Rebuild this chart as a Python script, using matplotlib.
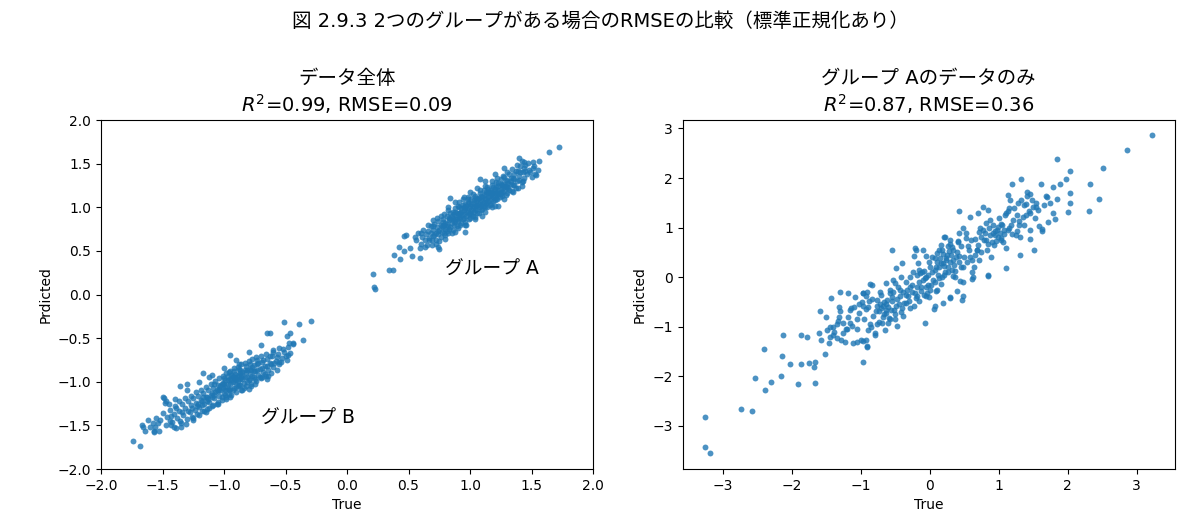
import matplotlib
matplotlib.use("Agg")
import matplotlib.pyplot as plt

plt.rcParams['font.family'] = ['DejaVu Sans', 'Noto Sans CJK JP']

# 左: データ全体 (グループ A)
a_true = [0.56, 0.58, 0.60, 0.61, 0.62, 0.63, 0.64, 0.65, 0.66, 0.67, 0.68, 0.68, 0.69, 0.70, 0.70,
          0.71, 0.72, 0.72, 0.73, 0.74, 0.74, 0.75, 0.76, 0.76, 0.77, 0.78, 0.78, 0.79, 0.80, 0.80,
          0.81, 0.82, 0.82, 0.83, 0.84, 0.84, 0.85, 0.86, 0.86, 0.87, 0.88, 0.88, 0.89, 0.90, 0.90,
          0.91, 0.92, 0.92, 0.93, 0.94, 0.94, 0.95, 0.96, 0.96, 0.97, 0.98, 0.98, 0.99, 1.00, 1.00,
          1.01, 1.02, 1.02, 1.03, 1.04, 1.04, 1.05, 1.06, 1.06, 1.07, 1.08, 1.08, 1.09, 1.10, 1.10,
          1.11, 1.12, 1.12, 1.13, 1.14, 1.14, 1.15, 1.16, 1.16, 1.17, 1.18, 1.18, 1.19, 1.20, 1.20,
          1.21, 1.22, 1.22, 1.23, 1.24, 1.25, 1.25, 1.26, 1.27, 1.28, 1.28, 1.29, 1.30, 1.30, 1.31,
          1.32, 1.33, 1.34, 1.35, 1.36, 1.37, 1.38, 1.39, 1.40, 1.41, 1.42, 1.43, 1.44, 1.45, 1.46,
          1.48, 1.50, 1.52, 1.55,
          0.85, 0.88, 0.91, 0.95, 0.97, 0.99, 1.01, 1.03, 1.05, 1.07, 1.09, 1.11, 1.13, 1.15, 1.17,
          1.19, 0.79, 0.81, 0.83, 0.87, 0.93, 1.21, 1.23, 1.26, 1.29,
          0.21, 0.22, 0.23, 0.34, 0.37, 0.38, 0.42, 0.46, 0.53, 0.59, 0.74, 0.84, 1.40, 1.44, 1.56,
          1.51, 1.54, 1.64, 1.72, 1.23, 1.08, 0.96, 0.55, 0.59, 0.51, 0.46, 0.48, 0.43, 0.75,
          0.60, 0.63, 0.66, 0.69, 0.71, 0.73, 0.75, 0.77, 0.79, 0.80, 0.82, 0.83, 0.85, 0.86, 0.88,
          0.89, 0.90, 0.91, 0.92, 0.93, 0.94, 0.95, 0.96, 0.97, 0.98, 0.99, 1.00, 1.01, 1.02, 1.03,
          1.04, 1.05, 1.06, 1.07, 1.08, 1.09, 1.10, 1.11, 1.12, 1.13, 1.14, 1.15, 1.16, 1.17, 1.18,
          1.19, 1.20, 1.21, 1.22, 1.23, 1.24, 1.25, 1.26, 1.27, 1.28, 1.29, 1.30, 1.31, 1.32, 1.33,
          1.34, 1.35, 1.36, 1.37, 1.38, 1.40, 1.41, 1.42, 1.43, 1.45, 1.47, 1.49, 1.51, 1.53,
          0.67, 0.70, 0.74, 0.78, 0.81, 0.84, 0.87, 0.89, 0.91, 0.93, 0.95, 0.97, 0.99, 1.01, 1.03,
          1.05, 1.07, 1.09, 1.11, 1.13, 1.15, 1.17, 1.19, 1.21, 1.23, 1.25, 1.27, 1.30, 1.33, 1.36,
          1.39, 1.44,
          0.70, 0.76, 0.82, 0.88, 0.95, 1.00, 1.06, 1.12, 1.20, 1.28, 0.72, 0.80, 0.88, 0.96, 1.04,
          1.12, 1.20, 1.28, 1.35, 1.42, 0.98, 1.10, 0.90, 1.18]
a_pred = [0.62, 0.70, 0.58, 0.66, 0.74, 0.62, 0.69, 0.57, 0.73, 0.65, 0.78, 0.70, 0.62, 0.74, 0.67,
          0.81, 0.71, 0.63, 0.77, 0.69, 0.84, 0.74, 0.66, 0.80, 0.72, 0.86, 0.77, 0.70, 0.82, 0.75,
          0.90, 0.79, 0.71, 0.85, 0.77, 0.93, 0.82, 0.74, 0.88, 0.80, 0.95, 0.86, 0.78, 0.91, 0.84,
          1.00, 0.88, 0.80, 0.95, 0.86, 1.03, 0.92, 0.83, 0.99, 0.90, 1.06, 0.96, 0.87, 1.02, 0.94,
          1.10, 0.99, 0.90, 1.05, 0.97, 1.13, 1.02, 0.93, 1.09, 1.00, 1.16, 1.06, 0.97, 1.12, 1.04,
          1.20, 1.09, 1.00, 1.15, 1.06, 1.23, 1.12, 1.03, 1.18, 1.10, 1.26, 1.16, 1.07, 1.21, 1.13,
          1.29, 1.18, 1.10, 1.24, 1.16, 1.32, 1.21, 1.13, 1.27, 1.19, 1.35, 1.24, 1.16, 1.30, 1.22,
          1.38, 1.27, 1.19, 1.33, 1.25, 1.42, 1.30, 1.22, 1.36, 1.47, 1.29, 1.40, 1.34, 1.49, 1.38,
          1.43, 1.35, 1.47, 1.43,
          0.90, 0.83, 0.93, 0.97, 1.01, 0.92, 1.04, 0.95, 1.07, 1.11, 1.02, 1.14, 1.05, 1.17, 1.20,
          1.12, 0.80, 0.73, 0.88, 0.92, 0.99, 1.23, 1.15, 1.25, 1.31,
          0.24, 0.09, 0.06, 0.28, 0.28, 0.45, 0.55, 0.67, 0.44, 0.42, 0.54, 1.11, 1.57, 1.52, 1.53,
          1.45, 1.37, 1.63, 1.69, 1.01, 1.32, 0.72, 0.66, 0.53, 0.53, 0.50, 0.68, 0.41, 0.52,
          0.71, 0.55, 0.80, 0.57, 0.68, 0.88, 0.61, 0.79, 0.92, 0.68, 0.97, 0.75, 0.71, 0.95, 0.99,
          0.87, 0.76, 1.06, 0.94, 0.82, 1.09, 0.88, 1.04, 0.80, 1.12, 0.99, 0.88, 0.97, 1.15, 1.01,
          0.89, 1.11, 1.03, 0.94, 1.20, 1.08, 0.98, 1.06, 1.24, 1.10, 1.00, 1.21, 1.13, 1.04, 1.30,
          1.18, 1.08, 1.16, 1.33, 1.20, 1.12, 1.27, 1.18, 1.36, 1.24, 1.14, 1.40, 1.28, 1.20, 1.34,
          1.44, 1.26, 1.38, 1.22, 1.48, 1.31, 1.40, 1.53, 1.30, 1.42, 1.51, 1.40, 1.52, 1.38,
          0.62, 0.79, 0.73, 0.83, 0.81, 0.86, 0.84, 0.94, 0.89, 0.91, 1.00, 0.95, 1.05, 0.92, 1.08,
          0.98, 1.04, 1.13, 1.02, 1.18, 1.07, 1.15, 1.23, 1.11, 1.28, 1.15, 1.22, 1.23, 1.30, 1.32,
          1.41, 1.45,
          0.85, 0.90, 1.00, 1.06, 1.12, 1.17, 1.22, 1.30, 1.38, 1.45, 0.58, 0.64, 0.72, 0.80, 0.86,
          0.95, 1.02, 1.10, 1.17, 1.24, 1.09, 0.90, 1.02, 1.00]

# 左: データ全体 (グループ B)
b_true = [-1.46, -1.44, -1.42, -1.41, -1.40, -1.38, -1.37, -1.35, -1.34, -1.33, -1.32, -1.30, -1.29,
          -1.28, -1.27, -1.26, -1.25, -1.24, -1.23, -1.22, -1.21, -1.20, -1.19, -1.18, -1.17, -1.16,
          -1.15, -1.14, -1.13, -1.12, -1.11, -1.10, -1.09, -1.08, -1.07, -1.06, -1.05, -1.04, -1.03,
          -1.02, -1.01, -1.00, -0.99, -0.98, -0.97, -0.96, -0.95, -0.94, -0.93, -0.92, -0.91, -0.90,
          -0.89, -0.88, -0.87, -0.86, -0.85, -0.84, -0.83, -0.82, -0.81, -0.80, -0.79, -0.78, -0.77,
          -0.76, -0.75, -0.74, -0.73, -0.72, -0.71, -0.70, -0.69, -0.68, -0.67, -0.66, -0.65, -0.64,
          -0.63, -0.62, -0.61, -0.60, -0.58, -0.57, -0.56, -0.55, -0.53, -0.52, -0.50, -0.48, -0.46,
          -0.44,
          -1.05, -1.02, -0.99, -0.97, -0.95, -0.93, -0.91, -0.89, -0.87, -0.85, -0.83, -0.81, -0.79,
          -0.77, -1.00, -0.96, -0.92, -0.88, -1.10, -1.14, -1.18, -1.08, -0.94, -0.90,
          -0.29, -0.39, -0.51, -0.36, -0.48, -0.55, -0.69, -0.80, -1.74, -1.68, -1.66, -1.64, -1.57,
          -1.56, -1.52, -1.43, -1.49, -1.48, -1.30, -1.17, -0.95, -0.65, -0.49, -0.44, -0.60,
          -1.50, -1.47, -1.36, -1.57, -1.67, -1.39, -1.44, -1.54, -0.63, -0.46,
          -1.50, -1.47, -1.45, -1.43, -1.41, -1.39, -1.37, -1.36, -1.34, -1.32, -1.31, -1.29, -1.27,
          -1.26, -1.25, -1.23, -1.22, -1.20, -1.19, -1.18, -1.16, -1.15, -1.14, -1.12, -1.11, -1.10,
          -1.09, -1.07, -1.06, -1.05, -1.04, -1.03, -1.02, -1.01, -1.00, -0.99, -0.98, -0.97, -0.96,
          -0.95, -0.94, -0.93, -0.92, -0.91, -0.90, -0.89, -0.88, -0.87, -0.86, -0.85, -0.84, -0.83,
          -0.82, -0.81, -0.80, -0.79, -0.78, -0.77, -0.76, -0.75, -0.74, -0.73, -0.72, -0.71, -0.70,
          -0.69, -0.68, -0.67, -0.66, -0.65, -0.64, -0.63, -0.62, -0.60, -0.59, -0.57, -0.55, -0.54,
          -0.51, -0.49, -0.47, -1.55, -1.53, -1.58, -1.60, -1.62, -1.13, -1.08, -1.01, -0.97, -0.93,
          -0.89, -0.86, -0.82, -0.79, -0.76, -0.73, -1.04, -0.99, -0.95, -0.91, -0.87, -1.21, -1.17,
          -1.40, -1.30, -1.20, -1.10, -1.00, -0.90, -0.80, -0.70, -1.35, -1.25, -1.15, -1.05, -0.95,
          -0.85, -0.75, -0.65, -1.12, -0.98, -0.88, -0.78]
b_pred = [-1.40, -1.32, -1.46, -1.37, -1.28, -1.42, -1.33, -1.47, -1.25, -1.38, -1.30, -1.43, -1.22,
          -1.35, -1.27, -1.40, -1.19, -1.32, -1.24, -1.37, -1.16, -1.29, -1.21, -1.34, -1.13, -1.26,
          -1.18, -1.31, -1.10, -1.23, -1.15, -1.28, -1.07, -1.19, -1.12, -1.25, -1.04, -1.16, -1.09,
          -1.21, -1.01, -1.13, -1.06, -1.18, -0.98, -1.10, -1.03, -1.15, -0.95, -1.07, -1.00, -1.12,
          -0.92, -1.04, -0.97, -1.09, -0.89, -1.01, -0.94, -1.05, -0.86, -0.98, -0.91, -1.02, -0.83,
          -0.95, -0.88, -0.99, -0.80, -0.92, -0.85, -0.96, -0.77, -0.89, -0.82, -0.93, -0.74, -0.86,
          -0.79, -0.90, -0.71, -0.83, -0.76, -0.87, -0.68, -0.80, -0.73, -0.62, -0.70, -0.60, -0.67,
          -0.57,
          -1.11, -1.03, -1.10, -0.93, -1.08, -1.00, -0.94, -1.05, -0.90, -0.97, -0.87, -1.00, -0.85,
          -0.93, -0.96, -0.89, -0.88, -0.85, -1.17, -1.22, -1.27, -1.03, -0.92, -0.98,
          -0.30, -0.34, -0.31, -0.52, -0.69, -0.77, -0.94, -1.08, -1.68, -1.74, -1.52, -1.57, -1.57,
          -1.52, -1.44, -1.50, -1.19, -1.24, -1.03, -0.90, -0.69, -0.44, -0.48, -0.56, -0.64,
          -1.18, -1.22, -1.05, -1.58, -1.50, -1.53, -1.45, -1.47, -0.44, -0.44,
          -1.36, -1.50, -1.26, -1.39, -1.52, -1.30, -1.22, -1.45, -1.35, -1.19, -1.48, -1.33, -1.16,
          -1.30, -1.44, -1.12, -1.28, -1.38, -1.09, -1.22, -1.33, -1.06, -1.18, -1.30, -1.03, -1.13,
          -1.27, -0.99, -1.10, -1.23, -0.96, -1.05, -1.17, -0.93, -1.03, -1.15, -0.90, -1.02, -1.14,
          -0.88, -0.98, -1.10, -0.84, -0.96, -1.06, -0.83, -0.93, -1.04, -0.80, -0.92, -1.07, -0.78,
          -0.89, -0.95, -0.76, -0.97, -0.86, -0.74, -0.88, -0.97, -0.72, -0.86, -0.79, -0.94, -0.70,
          -0.84, -0.75, -0.91, -0.68, -0.82, -0.93, -0.70, -0.80, -0.66, -0.78, -0.72, -0.61, -0.77,
          -0.66, -0.75, -0.55, -1.42, -1.56, -1.47, -1.52, -1.44, -1.20, -1.15, -1.07, -1.08, -0.93,
          -0.99, -0.95, -0.82, -0.80, -0.81, -0.75, -1.08, -0.98, -0.97, -0.91, -0.87, -1.25, -1.17,
          -1.20, -1.10, -1.00, -0.92, -0.84, -0.75, -0.66, -0.58, -1.52, -1.42, -1.35, -1.26, -1.18,
          -1.10, -1.02, -0.97, -0.95, -1.20, -0.80, -1.05]

# 右: グループ A のデータのみ
r_true = [-3.26, -3.26, -3.19, -2.73, -2.57, -2.53, -2.38, -2.40, -2.30, -2.16, -2.14, -2.12, -2.03,
          -1.91, -1.86, -1.86, -1.78, -1.75, -1.68, -1.66, -1.66, -1.52, -1.59, -1.50, -1.43, -0.96,
          -0.55, -0.23, -0.20,
          -1.60, -1.57, -1.49, -1.44, -1.40, -1.46, -1.35, -1.30, -1.31, -1.25, -1.23, -1.20, -1.19,
          -1.15, -1.11, -1.06, -1.14, -1.00, -0.98, -0.97, -0.93, -0.91, -0.89, -0.84, -0.82, -0.79,
          -0.73, -0.69, -0.67, -0.65, -0.62, -0.59, -0.57, -0.52, -0.50, -0.48, -0.43, -0.38, -0.33,
          -0.29, -0.23, -0.19, -0.15,
          -1.16, -1.31, -1.30, -1.08, -0.91, -0.86, -0.97, -0.76, -0.63, -0.56, -0.68, -0.86, -0.96,
          -0.91, -1.06, -1.45, -1.40, -1.35, -1.28, -1.22, -1.12, -1.10, -1.02, -0.92, -0.88, -0.80,
          -0.76, -0.70, -0.66, -0.64, -0.58, -0.54, -0.50, -0.45, -0.40, -0.35, -0.30, -0.26, -0.20,
          -0.12, -0.10, -0.04,
          1.85, 2.86, 2.51, 2.04, 1.98, 2.33, 2.46, 2.31, 2.01, 2.04, 2.03, 1.85, 1.89, 1.78, 1.61,
          1.68, 1.78, 1.81, 1.71, 1.62, 1.59, 1.51, 1.32, 1.19, 1.41, 1.41, 1.54, 1.50, 1.45, 1.35,
          1.26, 1.37, 1.13, 1.17, 1.28, 1.15, 1.11, 1.21, 1.30, 1.46, 1.46, 1.31, 1.26, 1.11, 1.31,
          1.11, 1.04, 1.05, 0.99, 0.92, 0.96, 0.84, 0.77, 0.70, 0.88, 0.77, 0.82, 0.72, 0.65, 0.58,
          0.43, 0.48, 0.53, 0.55, 0.43, 0.41, 0.68, 0.62, 0.72, 0.84, 0.63, 0.48, 0.43, 0.34, 0.26,
          0.29, 0.22, 0.14, 0.07, 0.19, 0.26, 0.36, 0.18, 0.07, 0.00, -0.05, -0.10, -0.17, -0.22,
          -0.07, -0.14, -0.24, -0.40, -0.49, -0.41, -0.53, -0.63, -0.72, -0.92, -0.58, -0.43, -0.29,
          -0.19, -0.35, -0.49, -0.63, -0.77, -0.97, -0.05, 0.10, 0.29, 0.48, 0.48, -0.07, 0.07, 0.19,
          0.06, 0.47, 0.29, 0.39, 0.44, 0.34, 0.16, 0.09, -0.01, -0.06, 0.14, 0.24, 0.19, 0.34, 0.29,
          0.21, 0.41, 0.59, 0.64, 0.69, 0.74, 0.84, 0.89, 0.94, 0.99, 1.04, 1.14, 1.19, 1.29, 1.44,
          1.39, 1.46, 1.54, 3.22, 0.85, 0.62, 1.70, 1.62,
          0.10, 0.15, 0.20, 0.25, 0.30, 0.32, 0.12, 0.05, -0.02, 0.22, 0.38, 0.02, -0.15, -0.08, 0.28,
          0.17, 1.02, 1.08, 0.95, 0.90, 1.06, 0.86, 1.15, 0.80,
          -1.25, -1.18, -1.05, -1.03, -0.95, -0.90, -0.85, -0.83, -0.78, -0.74, -0.72, -0.70, -0.66,
          -0.61, -0.60, -0.55, -0.53, -0.51, -0.47, -0.46, -0.42, -0.39, -0.37, -0.34, -0.31, -0.28,
          -0.25, -0.22, -0.18, -0.16, -0.13, -0.11, -0.09, -0.06, -0.03, -0.01, 0.01, 0.03, 0.04,
          0.08, 0.09, 0.11, 0.13, 0.16, 0.18, 0.21, 0.23, 0.27, 0.31, 0.33, 0.35, 0.37, 0.40, 0.42,
          0.45, 0.46, 0.50, 0.52, 0.54, 0.57, 0.60, 0.61, 0.66, 0.70, 0.73, 0.75, 0.79, 0.81, 0.83,
          0.87, 0.91, 0.93, 0.97, 1.00, 1.03, 1.07, 1.09, 1.13, 1.18, 1.22, 1.25, 1.33, 1.36, 1.40,
          1.48, 1.52, 1.57, 1.65, 1.75, -1.38, -1.33]
r_pred = [-2.83, -3.43, -3.54, -2.66, -2.69, -2.04, -2.28, -1.45, -2.11, -2.00, -1.59, -1.16, -1.75,
          -2.16, -1.75, -1.16, -1.21, -1.73, -1.82, -1.71, -2.14, -1.55, -0.69, -0.81, -0.42, -1.71,
          0.55, 0.42, 0.55,
          -1.13, -1.26, -1.06, -1.20, -1.01, -1.33, -1.23, -0.69, -0.81, -0.92, -1.30, -1.05, -0.31,
          -0.93, -1.33, -0.85, -0.63, -1.26, -0.50, -0.31, -1.26, -1.40, -1.06, -0.16, -0.79, -1.16,
          -0.69, -0.93, -0.59, -1.06, -0.46, -0.83, -0.26, -0.66, -0.12, -0.99, -0.39, -0.79, -0.26,
          0.01, -0.59, -0.19, 0.15,
          -0.67, -0.61, -0.30, -0.40, -0.30, -0.13, -0.32, -0.47, -0.54, -0.67, -0.81, -0.94, -1.28,
          -1.38, -1.31, -1.00, -1.17, -0.95, -1.27, -1.05, -0.98, -0.60, -0.55, -0.65, -0.48, -1.12,
          -0.95, -0.62, -0.50, -0.72, -0.85, -0.40, -0.75, -0.55, -0.62, -0.35, -0.48, -0.30, -0.42,
          -0.28, -0.05, -0.32,
          2.39, 2.57, 2.20, 2.15, 1.99, 1.87, 1.58, 1.34, 1.32, 1.69, 1.49, 1.58, 1.87, 1.81, 1.87,
          1.64, 1.29, 1.18, 1.11, 0.98, 1.03, 0.54, 1.99, 1.87, 1.71, 1.63, 1.49, 1.42, 1.29, 1.22,
          1.26, 1.46, 1.66, 1.56, 1.49, 1.39, 1.29, 1.16, 1.06, 0.77, 0.95, 0.82, 0.94, 0.58, 0.45,
          0.18, 0.79, 1.06, 1.02, 0.89, 0.72, 1.36, 1.41, 1.30, 1.16, 0.95, 0.75, 0.92, 0.77, 1.22,
          1.34, 0.99, 0.79, 0.62, 0.89, 0.72, 0.55, 0.35, 0.35, 0.05, 0.00, 0.21, 0.42, 0.35, 0.62,
          0.75, 0.81, 0.55, 0.38, 0.28, 0.11, 0.00, 0.01, 0.15, 0.21, 0.42, 0.55, 0.28, 0.58,
          -0.02, 0.08, 0.11, 0.28, 0.18, 0.01, -0.05, -0.12, -0.29, -0.39, -0.32, -0.26, -0.19,
          -0.39, -0.52, -0.59, -0.66, -0.59, -0.59, -0.39, -0.26, -0.42, -0.39, -0.09, -0.93, -0.59, -0.52,
          -0.65, -0.46, -0.40, -0.27, -0.07, 0.03, -0.13, -0.27, -0.40, -0.20, 0.20, 0.34, 0.47, 0.54, 0.67,
          0.81, 0.71, 0.40, 0.20, 0.54, 0.81, 0.67, 0.40, 0.94, 0.81, 1.08, 1.34, 0.87, 1.14, 1.34,
          1.48, 1.68, 1.41, 2.86, 0.02, -0.03, 1.61, 0.94,
          0.30, 0.38, 0.22, 0.45, 0.30, 0.15, 0.05, -0.05, 0.05, 0.10, 0.40, -0.15, -0.10, 0.12, 0.52,
          0.64, 0.90, 0.95, 0.85, 0.70, 0.70, 1.00, 1.00, 0.90,
          -1.12, -0.80, -1.05, -0.72, -0.85, -0.60, -1.00, -0.45, -0.68, -0.90, -0.55, -0.35, -0.75,
          -0.60, -0.92, -0.48, -0.30, -0.85, -0.45, -0.20, -0.70, -0.30, -0.52, -0.10, -0.38, -0.62,
          -0.15, -0.32, 0.05, -0.48, -0.20, 0.10, -0.35, 0.00, -0.15, 0.30, -0.25, 0.10, 0.40,
          -0.10, 0.20, 0.48, -0.02, 0.28, 0.55, 0.05, 0.38, 0.20, 0.45, 0.60, 0.25, 0.12, 0.50, 0.30,
          0.20, 0.62, 0.40, 0.90, 0.30, 0.55, 0.75, 0.10, 0.45, 0.65, 1.00, 0.50, 0.75, 1.10, 0.55,
          0.85, 1.05, 0.65, 0.95, 1.20, 0.75, 0.88, 1.25, 0.95, 1.05, 1.40, 0.85, 1.55, 1.05, 1.25,
          1.55, 1.20, 1.35, 1.45, 1.50, -1.10, -0.88]

fig = plt.figure(figsize=(12, 5.32), dpi=100)
ax1 = fig.add_axes([0.0842, 0.1184, 0.41, 0.656])
ax2 = fig.add_axes([0.5689, 0.1184, 0.41, 0.656])

ax1.scatter(a_true + b_true, a_pred + b_pred, s=18, alpha=0.8, linewidths=0)
ax1.set_xlim(-2, 2)
ax1.set_ylim(-2, 2)
ax1.set_xticks([-2.0, -1.5, -1.0, -0.5, 0.0, 0.5, 1.0, 1.5, 2.0])
ax1.set_yticks([-2.0, -1.5, -1.0, -0.5, 0.0, 0.5, 1.0, 1.5, 2.0])
ax1.text(0.795, 0.29, 'グループ A', fontsize=13.5, va='center')
ax1.text(-0.70, -1.42, 'グループ B', fontsize=13.5, va='center')
ax1.set_title('データ全体\n$R^2$=0.99, RMSE=0.09', fontsize=14)
ax1.set_xlabel('True')
ax1.set_ylabel('Prdicted')

ax2.scatter(r_true, r_pred, s=18, alpha=0.8, linewidths=0)
ax2.set_xlim(-3.58, 3.55)
ax2.set_ylim(-3.87, 3.17)
ax2.set_title('グループ Aのデータのみ\n$R^2$=0.87, RMSE=0.36', fontsize=14)
ax2.set_xlabel('True')
ax2.set_ylabel('Prdicted')

fig.suptitle('図 2.9.3 2つのグループがある場合のRMSEの比較（標準正規化あり）', fontsize=14, y=0.959, va='center')

fig.savefig('out.png')
